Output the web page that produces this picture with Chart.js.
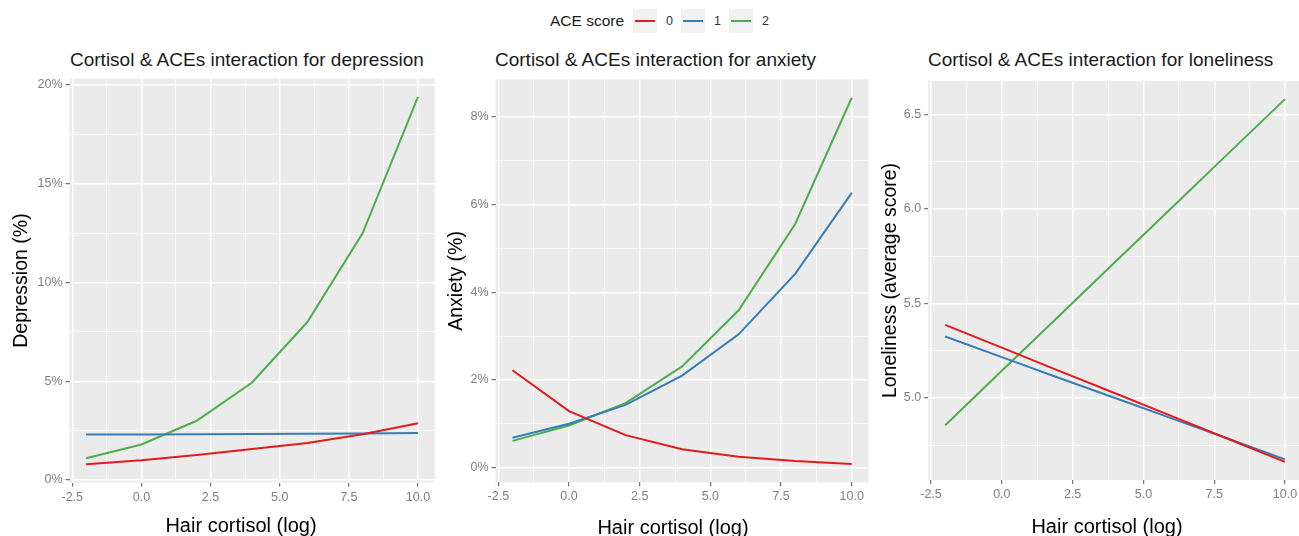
<!DOCTYPE html>
<html lang="en">
<head>
  <meta charset="UTF-8" />
  <title>Cortisol &amp; ACEs interaction</title>
  <script src="https://cdn.jsdelivr.net/npm/chart.js"></script>
  <style>
    html, body {
      margin: 0;
      padding: 0;
      background: #fff;
      width: 1299px;
      height: 536px;
      overflow: hidden;
      position: relative;
      font-family: 'Liberation Sans', Arial, sans-serif;
    }

    .panel {
      position: absolute;
      top: 40px;
      width: 440px;
      height: 510px;
    }

    .title {
      position: absolute;
      top: 48px;
      font-size: 19px;
      line-height: 24px;
      color: #1a1a1a;
      white-space: nowrap;
    }

    .xtitle {
      position: absolute;
      font-size: 20px;
      line-height: 24px;
      color: #000;
      white-space: nowrap;
      transform: translateX(-50%);
    }

    .legend {
      position: absolute;
      top: 9px;
      left: 550px;
      height: 24px;
      display: flex;
      align-items: center;
    }

    .legend .lt {
      font-size: 15.5px;
      color: #1a1a1a;
      margin-right: 9px;
    }

    .legend .key {
      width: 24px;
      height: 24px;
      background: #f2f2f2;
      position: relative;
    }

    .legend .key i {
      position: absolute;
      left: 2px;
      right: 2px;
      top: 11px;
      height: 2px;
    }

    .legend .lab {
      font-size: 12.5px;
      color: #333;
      margin: 0 8px 0 9px;
    }
  </style>
</head>
<body>

  <div class="legend" id="legend"><span class="lt">ACE score</span></div>

  <div class="title" style="left:70px;">Cortisol &amp; ACEs interaction for depression</div>
  <div class="title" style="left:495px;">Cortisol &amp; ACEs interaction for anxiety</div>
  <div class="title" style="left:928px;">Cortisol &amp; ACEs interaction for loneliness</div>

  <div class="panel" style="left:0px;"><canvas id="depChart" width="440" height="510"></canvas></div>
  <div class="panel" style="left:440px;"><canvas id="anxChart" width="440" height="510"></canvas></div>
  <div class="panel" style="left:870px;"><canvas id="lonChart" width="440" height="510"></canvas></div>

  <div class="xtitle" style="left:241px; top:513px;">Hair cortisol (log)</div>
  <div class="xtitle" style="left:673px; top:515px;">Hair cortisol (log)</div>
  <div class="xtitle" style="left:1107px; top:514px;">Hair cortisol (log)</div>

  <script>
    // data
    const cortisol = [-2, 0, 2, 4, 6, 8, 10];
    const aceScores = ['0', '1', '2'];
    const aceColors = ['#e41a1c', '#377eb8', '#4daf4a'];

    const depressionAce0 = [0.80, 1.00, 1.27, 1.57, 1.88, 2.32, 2.88];
    const depressionAce1 = [2.30, 2.31, 2.32, 2.33, 2.34, 2.36, 2.38];
    const depressionAce2 = [1.10, 1.80, 3.00, 4.94, 8.00, 12.50, 19.40];

    const anxietyAce0 = [2.22, 1.29, 0.74, 0.42, 0.25, 0.15, 0.08];
    const anxietyAce1 = [0.68, 1.00, 1.43, 2.10, 3.04, 4.42, 6.27];
    const anxietyAce2 = [0.61, 0.96, 1.47, 2.31, 3.59, 5.56, 8.44];

    const lonelinessAce0 = [5.387, 5.266, 5.145, 5.025, 4.904, 4.783, 4.662];
    const lonelinessAce1 = [5.325, 5.216, 5.107, 5.000, 4.892, 4.784, 4.675];
    const lonelinessAce2 = [4.856, 5.144, 5.431, 5.719, 6.006, 6.294, 6.581];

    const xTicks = [-2.5, 0, 2.5, 5, 7.5, 10];
    const xTickLabels = ['-2.5', '0.0', '2.5', '5.0', '7.5', '10.0'];
    const depTicks = [0, 5, 10, 15, 20];
    const depTickLabels = ['0%', '5%', '10%', '15%', '20%'];
    const anxTicks = [0, 2, 4, 6, 8];
    const anxTickLabels = ['0%', '2%', '4%', '6%', '8%'];
    const lonTicks = [5.0, 5.5, 6.0, 6.5];
    const lonTickLabels = ['5.0', '5.5', '6.0', '6.5'];

    Chart.defaults.font.family = "'Liberation Sans', Arial, sans-serif";

    // legend
    const legendEl = document.getElementById('legend');
    aceScores.forEach((s, i) => {
      const key = document.createElement('span');
      key.className = 'key';
      key.innerHTML = '<i style="background:' + aceColors[i] + '"></i>';
      const lab = document.createElement('span');
      lab.className = 'lab';
      lab.textContent = s;
      legendEl.appendChild(key);
      legendEl.appendChild(lab);
    });

    // ggplot-like 5% expansion
    function expand(values) {
      const lo = Math.min(...values), hi = Math.max(...values);
      const pad = (hi - lo) * 0.05;
      return [lo - pad, hi + pad];
    }

    function minorTicks(major, lo, hi) {
      const step = major[1] - major[0];
      const out = [];
      for (let v = major[0] - step / 2; v <= major[major.length - 1] + step / 2 + 1e-9; v += step) {
        if (v >= lo && v <= hi) out.push(v);
      }
      return out;
    }

    function axis(major, labels, lo, hi, size) {
      const all = major.concat(minorTicks(major, lo, hi)).sort((a, b) => a - b);
      const isMajor = v => major.some(t => Math.abs(t - v) < 1e-9);
      return {
        type: 'linear',
        min: lo,
        max: hi,
        afterBuildTicks: s => { s.ticks = all.map(v => ({ value: v })); },
        afterFit: s => { if (s.isHorizontal()) s.height = size; else s.width = size; },
        ticks: {
          autoSkip: false,
          maxRotation: 0,
          color: '#808080',
          font: { size: 12.5 },
          padding: 3,
          callback: v => {
            const i = major.findIndex(t => Math.abs(t - v) < 1e-9);
            return i < 0 ? '' : labels[i];
          }
        },
        grid: {
          color: '#ffffff',
          lineWidth: c => (c.tick && isMajor(c.tick.value)) ? 1.4 : 0.7,
          drawTicks: true,
          tickLength: 4,
          tickWidth: 1,
          tickColor: c => (c.tick && isMajor(c.tick.value)) ? '#555555' : 'rgba(0,0,0,0)'
        },
        border: { display: false }
      };
    }

    const panelBg = {
      id: 'panelBg',
      beforeDraw(chart) {
        const { ctx, chartArea: a } = chart;
        ctx.save();
        ctx.fillStyle = '#ebebeb';
        ctx.fillRect(a.left, a.top, a.right - a.left, a.bottom - a.top);
        ctx.restore();
      }
    };

    function makePanel(id, series, yTicks, yLabels, yTitle, box) {
      const [xlo, xhi] = expand(cortisol);
      const [ylo, yhi] = expand([].concat(...series));
      const y = axis(yTicks, yLabels, ylo, yhi, box.yWidth);
      y.title = {
        display: true,
        text: yTitle,
        color: '#000',
        font: { size: 19.5 },
        padding: { top: box.titlePad, bottom: 0 }
      };
      new Chart(document.getElementById(id), {
        type: 'line',
        data: {
          datasets: series.map((vals, i) => ({
            label: aceScores[i],
            data: cortisol.map((x, j) => ({ x: x, y: vals[j] })),
            borderColor: aceColors[i],
            backgroundColor: aceColors[i],
            borderWidth: 2,
            pointRadius: 0,
            tension: 0,
            fill: false
          }))
        },
        options: {
          responsive: false,
          animation: false,
          layout: { padding: { top: box.top, right: box.right, left: 0, bottom: 0 } },
          plugins: { legend: { display: false }, tooltip: { enabled: false } },
          scales: {
            x: axis(xTicks, xTickLabels, xlo, xhi, box.xHeight),
            y: y
          }
        },
        plugins: [panelBg]
      });
    }

    makePanel('depChart', [depressionAce0, depressionAce1, depressionAce2],
      depTicks, depTickLabels, 'Depression (%)',
      { top: 38.5, right: 5.4, yWidth: 69.5, xHeight: 67.4, titlePad: 10.3 });

    makePanel('anxChart', [anxietyAce0, anxietyAce1, anxietyAce2],
      anxTicks, anxTickLabels, 'Anxiety (%)',
      { top: 39.4, right: 11.3, yWidth: 55.5, xHeight: 67.6, titlePad: 5.3 });

    makePanel('lonChart', [lonelinessAce0, lonelinessAce1, lonelinessAce2],
      lonTicks, lonTickLabels, 'Loneliness (average score)',
      { top: 41, right: 8, yWidth: 58.2, xHeight: 70, titlePad: 9.3 });
  </script>
</body>
</html>
